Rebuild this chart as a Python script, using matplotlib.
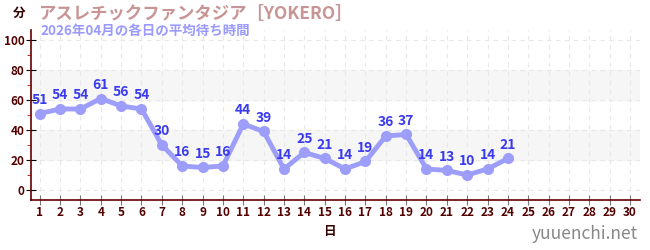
import matplotlib
matplotlib.use("Agg")
from matplotlib import pyplot as plt
from matplotlib.ticker import MultipleLocator

plt.rcParams['font.family'] = ['Noto Sans CJK JP', 'DejaVu Sans']

days = list(range(1, 25))
wait_minutes = [51, 54, 54, 61, 56, 54, 30, 16, 15, 16, 44, 39, 14, 25, 21, 14, 19, 36, 37, 14, 13, 10, 14, 21]
x_ticks = list(range(1, 31))
y_ticks = [0, 20, 40, 60, 80, 100]

title = "アスレチックファンタジア［YOKERO］"
subtitle = "2026年04月の各日の平均待ち時間"

fig = plt.figure(figsize=(6.5, 2.5), dpi=100)
ax = fig.add_axes([0.047, 0.2, 0.938, 0.68])

# grey bands
ax.axhspan(20, 40, color='#f6f6f6', zorder=0)
ax.axhspan(60, 80, color='#f6f6f6', zorder=0)

ax.plot(days, wait_minutes, color='#9d9dfa', linewidth=3.5, marker='o', markersize=8,
        markeredgewidth=0, zorder=3)
for d, v in zip(days, wait_minutes):
    ax.annotate(str(v), (d, v), xytext=(0, 5), textcoords='offset points', ha='center',
                va='bottom', color='#3a3af0', fontsize=10, fontweight='bold', zorder=4)

ax.set_xlim(0.55, 30.5)
ax.set_ylim(-6.7, 106.7)
ax.set_xticks(x_ticks)
ax.set_yticks(y_ticks)
ax.yaxis.set_minor_locator(MultipleLocator(10))
ax.grid(True, which='major', color='#e8e8e8', linestyle=(0, (4, 4)), linewidth=0.8)

for s in ['top', 'right']:
    ax.spines[s].set_visible(False)
for s in ['left', 'bottom']:
    ax.spines[s].set_color('#660000')
    ax.spines[s].set_linewidth(1.2)

ax.tick_params(axis='y', which='major', direction='inout', length=7, color='#000000',
               labelsize=8.5, labelcolor='#550000', pad=1)
ax.tick_params(axis='y', which='minor', direction='out', length=3, color='#dd0000')
ax.tick_params(axis='x', which='major', direction='inout', length=7, color='#777777',
               labelsize=8.5, labelcolor='#550000', pad=1)
for lab in ax.get_xticklabels() + ax.get_yticklabels():
    lab.set_fontweight('bold')

fig.text(0.030, 0.945, "分", ha='center', va='center', fontsize=9, fontweight='bold', color='#330000')
fig.text(0.058, 0.945, title, ha='left', va='center', fontsize=12.5, fontweight='bold', color='#c89494')
fig.text(0.062, 0.875, subtitle, ha='left', va='center', fontsize=9.7, fontweight='bold', color='#9999ff')
fig.text(0.507, 0.072, "日", ha='center', va='center', fontsize=9, fontweight='bold', color='#330000')
fig.text(0.982, 0.065, "yuuenchi.net", ha='right', va='center', fontsize=12.5, color='#888888')

fig.savefig('out.png', dpi=100)
